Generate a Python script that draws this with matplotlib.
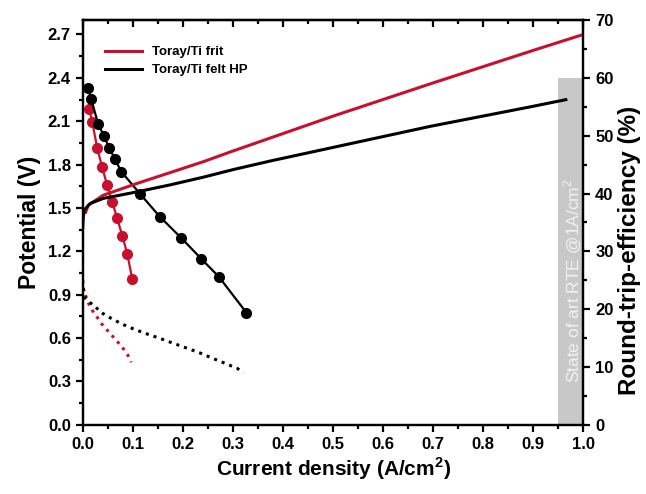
import matplotlib
matplotlib.use("Agg")
import matplotlib.pyplot as plt
from matplotlib.ticker import MultipleLocator, FormatStrFormatter

plt.rcParams['font.family'] = ['Liberation Sans', 'DejaVu Sans']
plt.rcParams['font.weight'] = 'bold'
plt.rcParams['axes.labelweight'] = 'bold'
plt.rcParams['mathtext.default'] = 'bf'

RED = '#c8102e'

# electrolysis polarization curves (V vs A/cm2)
ec_frit_j = [0.006, 0.011, 0.041, 0.108, 0.175, 0.241, 0.301, 0.5, 0.7, 0.9, 1.0]
ec_frit_v = [1.47, 1.519, 1.588, 1.669, 1.745, 1.82, 1.895, 2.135, 2.365, 2.59, 2.70]
ec_felt_j = [0.0, 0.001, 0.003, 0.015, 0.041, 0.108, 0.175, 0.241, 0.30, 0.375,
             0.495, 0.695, 0.895, 0.965]
ec_felt_v = [1.36, 1.43, 1.485, 1.531, 1.566, 1.611, 1.660, 1.713, 1.765, 1.825,
             1.915, 2.065, 2.20, 2.249]

# fuel cell curves (dotted)
fc_frit_j = [0.0, 0.004, 0.014, 0.021, 0.029, 0.037, 0.047, 0.056, 0.065, 0.074,
             0.083, 0.091, 0.097]
fc_frit_v = [0.95, 0.91, 0.822, 0.782, 0.744, 0.702, 0.663, 0.628, 0.592, 0.557,
             0.518, 0.477, 0.433]
fc_felt_j = [0.0, 0.001, 0.006, 0.019, 0.04, 0.053, 0.078, 0.103, 0.129, 0.156,
             0.181, 0.207, 0.233, 0.259, 0.284, 0.309, 0.321]
fc_felt_v = [1.0, 0.95, 0.87, 0.834, 0.771, 0.744, 0.698, 0.661, 0.628, 0.596,
             0.564, 0.532, 0.499, 0.461, 0.426, 0.39, 0.36]

# round-trip efficiency (%)
rte_frit_j = [0.013, 0.019, 0.029, 0.039, 0.049, 0.059, 0.069, 0.079, 0.089, 0.099]
rte_frit = [54.6, 52.4, 47.9, 44.5, 41.4, 38.5, 35.7, 32.7, 29.6, 25.2]
rte_felt_j = [0.011, 0.017, 0.031, 0.042, 0.053, 0.064, 0.077, 0.114, 0.154,
              0.197, 0.237, 0.272, 0.327]
rte_felt = [58.3, 56.3, 52.0, 50.0, 47.9, 46.0, 43.8, 40.0, 36.0, 32.3, 28.7,
            25.6, 19.4]

# state of the art band
soa_j = [0.95, 1.0]
soa_rte = 60

fig = plt.figure(figsize=(6.46, 4.94), dpi=100)
ax = fig.add_axes([0.128, 0.14, 0.775, 0.8195])
ax2 = ax.twinx()
ax.set_zorder(ax2.get_zorder() + 1)
ax.patch.set_visible(False)

ax2.fill_between(soa_j, 0, soa_rte, color='#c8c8c8', lw=0, zorder=1)
ax2.text(0.978, 25, 'State of art RTE @1A/cm$^{\\mathregular{2}}$', rotation=90,
         ha='center', va='center', color='#f2f2f2', fontsize=12.5,
         fontweight='normal', zorder=2)
ax2.plot(rte_frit_j, rte_frit, '-o', color=RED, lw=1.6, ms=7, zorder=3)
ax2.plot(rte_felt_j, rte_felt, '-o', color='black', lw=1.6, ms=7, zorder=3)

ax.plot(ec_frit_j, ec_frit_v, color=RED, lw=2.2, label='Toray/Ti frit')
ax.plot(ec_felt_j, ec_felt_v, color='black', lw=2.2, label='Toray/Ti felt HP')
ax.plot(fc_frit_j, fc_frit_v, ':', color=RED, lw=2.2)
ax.plot(fc_felt_j, fc_felt_v, ':', color='black', lw=2.2)

ax.set_xlim(0, 1.0)
ax.set_ylim(0, 2.8)
ax2.set_ylim(0, 70)

ax.xaxis.set_major_locator(MultipleLocator(0.1))
ax.xaxis.set_minor_locator(MultipleLocator(0.05))
ax.yaxis.set_major_locator(MultipleLocator(0.3))
ax.yaxis.set_minor_locator(MultipleLocator(0.15))
ax.xaxis.set_major_formatter(FormatStrFormatter('%.1f'))
ax.yaxis.set_major_formatter(FormatStrFormatter('%.1f'))
ax2.yaxis.set_major_locator(MultipleLocator(10))
ax2.yaxis.set_minor_locator(MultipleLocator(5))

for a in (ax, ax2):
    for s in a.spines.values():
        s.set_linewidth(1.6)
    a.tick_params(which='major', direction='out', length=5, width=1.6,
                  labelsize=12)
    a.tick_params(which='minor', direction='out', length=3, width=1.6)
for lab in ax.get_xticklabels() + ax.get_yticklabels() + ax2.get_yticklabels():
    lab.set_fontweight('bold')

top = ax.secondary_xaxis('top')
top.xaxis.set_major_locator(MultipleLocator(0.1))
top.xaxis.set_minor_locator(MultipleLocator(0.05))
top.tick_params(which='major', direction='in', length=5, width=1.6, labeltop=False)
top.tick_params(which='minor', direction='in', length=3, width=1.6)
top.spines['top'].set_linewidth(1.6)

ax.set_xlabel('Current density (A/cm$^{\\mathregular{2}}$)', fontsize=15,
              fontweight='bold', labelpad=3)
ax.set_ylabel('Potential (V)', fontsize=16.5, fontweight='bold', labelpad=5)
ax2.set_ylabel('Round-trip-efficiency (%)', fontsize=17.5, fontweight='bold')
ax2.yaxis.set_label_coords(1.07, 0.43)

ax.legend(loc='upper left', bbox_to_anchor=(0.02, 0.965), frameon=False,
          prop={'size': 9.5, 'weight': 'bold'}, handlelength=2.8,
          handletextpad=0.8, labelspacing=0.45)

fig.savefig('out.png', dpi=100)
